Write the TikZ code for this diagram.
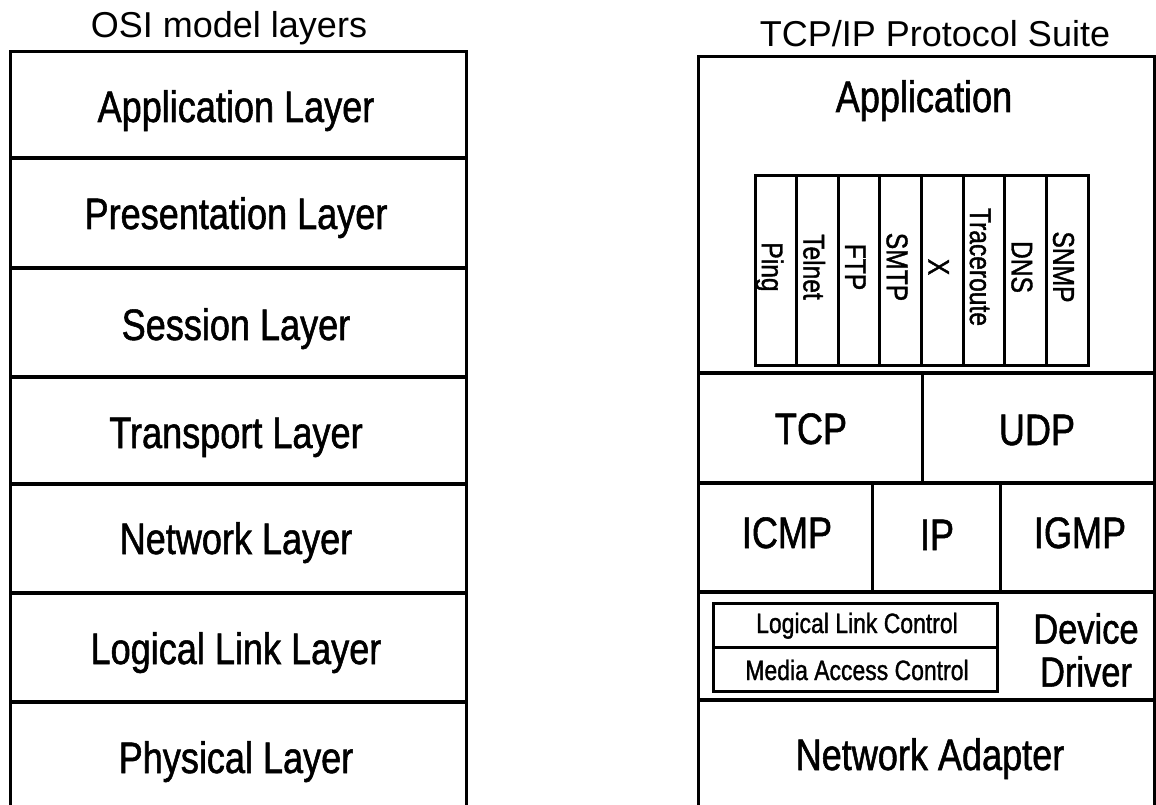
\documentclass[tikz,border=0pt]{standalone}
\usepackage{fontspec}
\setmainfont{Liberation Sans}
\newfontfamily\narrowfont[FakeStretch=0.82,FakeBold=1.2]{Liberation Sans}
\begin{document}
\begin{tikzpicture}[x=1pt,y=-1pt,
  edge/.style={line width=3pt, line cap=rect},
  sepline/.style={line width=3.6pt},
  title/.style={font=\fontsize{36}{40}\selectfont, anchor=base, inner sep=0pt},
  lbl/.style={font=\narrowfont\fontsize{44}{48}\selectfont, anchor=base, inner sep=0pt},
  smalllbl/.style={font=\narrowfont\fontsize{28}{30}\selectfont, anchor=base, inner sep=0pt},
  vlbl/.style={font=\narrowfont\fontsize{30}{32}\selectfont, anchor=base, inner sep=0pt, rotate=-90},
]
\useasboundingbox[fill=white] (0,0) rectangle (1156,805);

% ---------- left column: OSI ----------
\node[title] (osititle) at (229,38) {OSI model layers};
\draw[edge] (10,810) -- (10,52) -- (466,52) -- (466,810);
\foreach \y in {158,268,377,484,593,702}
  \draw[sepline] (10,\y) -- (466,\y);
\node[lbl] (app)   at (236,122) {Application Layer};
\node[lbl] (pres)  at (236,229) {Presentation Layer};
\node[lbl] (sess)  at (236,340) {Session Layer};
\node[lbl] (trans) at (236,448) {Transport Layer};
\node[lbl] (net)   at (236,554) {Network Layer};
\node[lbl] (llc)   at (236,664) {Logical Link Layer};
\node[lbl] (phys)  at (236,773) {Physical Layer};

% ---------- right column: TCP/IP ----------
\node[title] (tcptitle) at (935,47) {TCP/IP Protocol Suite};
\draw[edge] (698,810) -- (698,57) -- (1154,57) -- (1154,810);
\foreach \y in {373,483,592,700}
  \draw[sepline] (698,\y) -- (1154,\y);
\draw[edge] (922,373) -- (922,483);
\draw[edge] (872,483) -- (872,592);
\draw[edge] (1000,483) -- (1000,592);

\node[lbl] (tapp) at (924,112) {Application};

% protocol strips
\draw[edge] (755,176) rectangle (1088,365);
\foreach \i in {1,...,7}
  \draw[edge] ({755+\i*41.625},176) -- ({755+\i*41.625},365);
\foreach \n/\t [count=\i from 0] in {ping/Ping,telnet/Telnet,ftp/FTP,smtp/SMTP,x/X,trace/Traceroute,dns/DNS,snmp/SNMP}
  \node[vlbl] (\n) at ({755+\i*41.625+20.8-14},267) {\t};

\node[lbl] (tcp)  at (811,444) {TCP};
\node[lbl] (udp)  at (1037,445) {UDP};
\node[lbl] (icmp) at (787,548) {ICMP};
\node[lbl] (ip)   at (937,550) {IP};
\node[lbl] (igmp) at (1080,548) {IGMP};

% link layer
\draw[edge] (713,603) rectangle (997,691);
\draw[edge] (713,647) -- (997,647);
\node[smalllbl] (llcn) at (857,633) {Logical Link Control};
\node[smalllbl] (mac)  at (857,680) {Media Access Control};
\node[font=\narrowfont\fontsize{42}{43}\selectfont, align=center, inner sep=0pt] (dd) at (1086,650) {Device\\Driver};

\node[lbl] (nad) at (930,770) {Network Adapter};
\end{tikzpicture}
\end{document}
